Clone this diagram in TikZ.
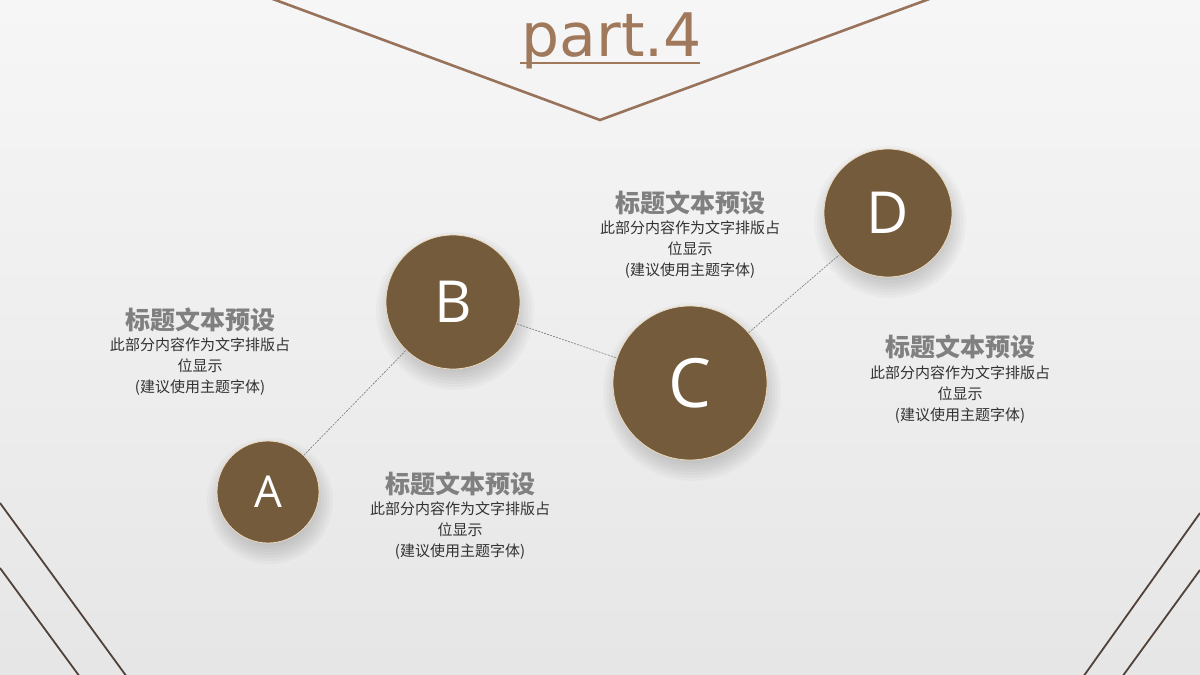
\documentclass[tikz,border=0pt]{standalone}
\usepackage{fontspec}
\setmainfont{Open Sans}
\newfontfamily\cjk{Noto Sans CJK SC}
\newfontfamily\titlefont{DejaVu Sans}
\definecolor{bgtop}{RGB}{246,246,246}
\definecolor{bgbot}{RGB}{230,230,230}
\definecolor{ballc}{RGB}{115,91,59}
\definecolor{ringc}{RGB}{236,218,192}
\definecolor{titlec}{RGB}{160,120,92}
\definecolor{vlinec}{RGB}{152,114,90}
\definecolor{cornerc}{RGB}{80,66,56}
\definecolor{headc}{RGB}{128,128,128}
\definecolor{bodyc}{RGB}{50,50,50}
\definecolor{dashc}{RGB}{120,120,120}
\newcommand\ballshade[2]{%
  \foreach \k in {12,9,6,3,0,-3,-6,-9}{%
    \fill[black, opacity=0.022] ([shift={(2,9)}]#1) circle ({#2+\k});}}
\tikzset{
  ball/.style={circle, fill=ballc, draw=ringc, line width=0.8bp, inner sep=0pt,
    text=white, minimum size=#1},
  head/.style={font=\cjk\bfseries\fontsize{25bp}{29bp}\selectfont, text=headc, inner sep=0pt},
  body/.style={font=\cjk\fontsize{15bp}{21bp}\selectfont, text=bodyc, align=center, inner sep=0pt},
  link/.style={draw=dashc, line width=0.6bp, dash pattern=on 2bp off 1.2bp},
  vline/.style={draw=vlinec, line width=2.6bp},
  cline/.style={draw=cornerc, line width=1.8bp}
}
\begin{document}
\begin{tikzpicture}[x=1bp,y=-1bp]
\shade[top color=bgtop, bottom color=bgbot] (0,0) rectangle (1200,675);
\useasboundingbox (0,0) rectangle (1200,675);
% V line
\draw[vline, line join=miter] (270,-2) -- (600,120) -- (932,-2);
% corner lines
\draw[cline] (0,503) -- (127,677);
\draw[cline] (0,568) -- (80,677);
\draw[cline] (1200,513) -- (1083,677);
\draw[cline] (1200,570) -- (1122,677);
% title
\node (title)[anchor=base, inner sep=0pt, text=titlec,
      font=\titlefont\fontsize{60bp}{60bp}\selectfont] at (612,57) {part.4};
\draw[draw=titlec, line width=2.6bp] (520,63) -- (700,63);
% circle positions and shadows
\coordinate (pA) at (268,492);
\coordinate (pB) at (453,302);
\coordinate (pC) at (690,383);
\coordinate (pD) at (888,213);
\ballshade{pA}{51}
\ballshade{pB}{67}
\ballshade{pC}{77}
\ballshade{pD}{64}
% circles
\node (A)[ball=102bp, font=\fontsize{44bp}{44bp}\selectfont] at (pA) {A};
\node (B)[ball=134bp, font=\fontsize{58bp}{58bp}\selectfont] at (pB) {B};
\node (C)[ball=154bp, font=\fontsize{68bp}{68bp}\selectfont] at (pC) {C};
\node (D)[ball=128bp, font=\fontsize{58bp}{58bp}\selectfont] at (pD) {D};
% connectors
\draw[link] (A) -- (B);
\draw[link] (B) -- (C);
\draw[link] (C) -- (D);
% text blocks
\node (h1)[head] at (200,320) {标题文本预设};
\node (b1)[body] at (200,367) {此部分内容作为文字排版占\\位显示\\(建议使用主题字体)};
\node (h2)[head] at (460,484) {标题文本预设};
\node (b2)[body] at (460,531) {此部分内容作为文字排版占\\位显示\\(建议使用主题字体)};
\node (h3)[head] at (690,203) {标题文本预设};
\node (b3)[body] at (690,250) {此部分内容作为文字排版占\\位显示\\(建议使用主题字体)};
\node (h4)[head] at (960,347) {标题文本预设};
\node (b4)[body] at (960,395) {此部分内容作为文字排版占\\位显示\\(建议使用主题字体)};
\end{tikzpicture}
\end{document}
